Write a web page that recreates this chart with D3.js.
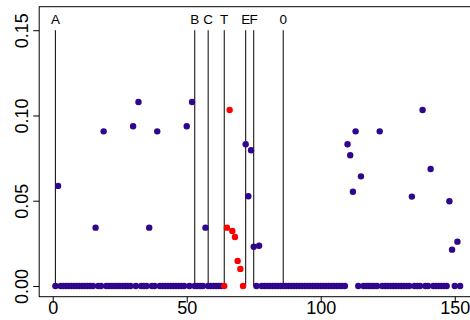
<!DOCTYPE html>
<html>
<head>
<meta charset="utf-8">
<script src="https://cdn.jsdelivr.net/npm/d3@7/dist/d3.min.js"></script>
<style>
  html, body { margin: 0; padding: 0; background: #fff; }
  svg { display: block; }
  text { font-family: "Liberation Sans", Arial, sans-serif; fill: #000; }
</style>
</head>
<body>
<svg id="chart" width="470" height="320"></svg>
<script>
// Score per position (index 1..152)
const scores = [
  0, 0.0587, 0, 0, 0, 0, 0, 0, 0, 0,
  0, 0, 0, 0, 0, 0.0342, 0, 0, 0.0907, 0,
  0, 0, 0, 0, 0, 0, 0, 0, 0, 0.0937,
  0, 0.1079, 0, 0, 0, 0.0342, 0, 0, 0.0907, 0,
  0, 0, 0, 0, 0, 0, 0, 0, 0, 0.0937,
  0, 0.1079, 0, 0, 0, 0, 0.0342, 0, 0, 0,
  0, 0, 0, 0, 0.0342, 0.1032, 0.0323, 0.0287, 0.0147, 0.0100,
  0, 0.0831, 0.0526, 0.0796, 0.0230, 0, 0.0236, 0, 0, 0,
  0, 0, 0, 0, 0, 0, 0, 0, 0, 0,
  0, 0, 0, 0, 0, 0, 0, 0, 0, 0,
  0, 0, 0, 0, 0, 0, 0, 0, 0, 0.0831,
  0.0767, 0.0553, 0.0907, 0, 0.0643, 0, 0, 0, 0, 0,
  0, 0.0907, 0, 0, 0, 0, 0, 0, 0, 0,
  0, 0, 0, 0.0524, 0, 0, 0, 0.1032, 0, 0,
  0.0686, 0, 0, 0, 0, 0, 0, 0.0497, 0.0213, 0,
  0.0260, 0
];

// Reference positions marked with vertical lines
const markerLabels = ["A", "B", "C", "T", "E", "F", "0"];
const markerPositions = [1, 53, 58, 64, 72, 75, 86];

const xTicks = [0, 50, 100, 150];
const yTicks = [0, 0.05, 0.10, 0.15];

const points = scores.map((v, i) => ({ index: i + 1, value: v }));

// Positions from T up to (not including) E are highlighted
const hlStart = markerPositions[markerLabels.indexOf("T")];
const hlEnd = markerPositions[markerLabels.indexOf("E")];

const svg = d3.select("#chart");
const box = { left: 39.2, right: 476.3, top: 6.7, bottom: 296.7 };

const x = d3.scaleLinear().domain([-5.04, 158.04]).range([box.left, box.right]);
const y = d3.scaleLinear().domain([-0.0063, 0.1638]).range([box.bottom, box.top]);

// Vertical marker lines with labels above
const markers = markerLabels.map((l, i) => ({ label: l, pos: markerPositions[i] }));
svg.append("g").selectAll("line").data(markers).join("line")
  .attr("x1", d => x(d.pos)).attr("x2", d => x(d.pos))
  .attr("y1", y(0)).attr("y2", y(0.15))
  .attr("stroke", "#000").attr("stroke-width", 1);

svg.append("g").selectAll("text").data(markers).join("text")
  .attr("x", d => x(d.pos)).attr("y", 24)
  .attr("text-anchor", "middle")
  .attr("font-size", 13.5)
  .text(d => d.label);

// Points
svg.append("g").selectAll("circle").data(points).join("circle")
  .attr("cx", d => x(d.index))
  .attr("cy", d => y(d.value))
  .attr("r", 3.2)
  .attr("fill", d => (d.index >= hlStart && d.index < hlEnd) ? "#ff0000" : "#30068c");

// Axes
const xAxis = svg.append("g")
  .attr("transform", `translate(0,${box.bottom})`)
  .call(d3.axisBottom(x).tickValues(xTicks).tickSize(6).tickFormat(d3.format("d")));
xAxis.select(".domain").remove();
xAxis.selectAll("text").attr("y", 17.8).attr("dy", null).attr("font-size", 18)
  .style("font-family", "'Liberation Sans', Arial, sans-serif");
xAxis.selectAll("line").attr("stroke", "#000");

const yAxis = svg.append("g")
  .attr("transform", `translate(${box.left},0)`)
  .call(d3.axisLeft(y).tickValues(yTicks).tickSize(6).tickFormat(d3.format(".2f")));
yAxis.select(".domain").remove();
yAxis.selectAll("text")
  .attr("x", 0).attr("dy", null).attr("y", -11)
  .attr("text-anchor", "middle")
  .attr("transform", "rotate(-90)")
  .attr("font-size", 18)
  .style("font-family", "'Liberation Sans', Arial, sans-serif");
yAxis.selectAll("line").attr("stroke", "#000");

// Plot frame
svg.append("rect")
  .attr("x", box.left).attr("y", box.top)
  .attr("width", box.right - box.left).attr("height", box.bottom - box.top)
  .attr("fill", "none").attr("stroke", "#000").attr("stroke-width", 1);
</script>
</body>
</html>
